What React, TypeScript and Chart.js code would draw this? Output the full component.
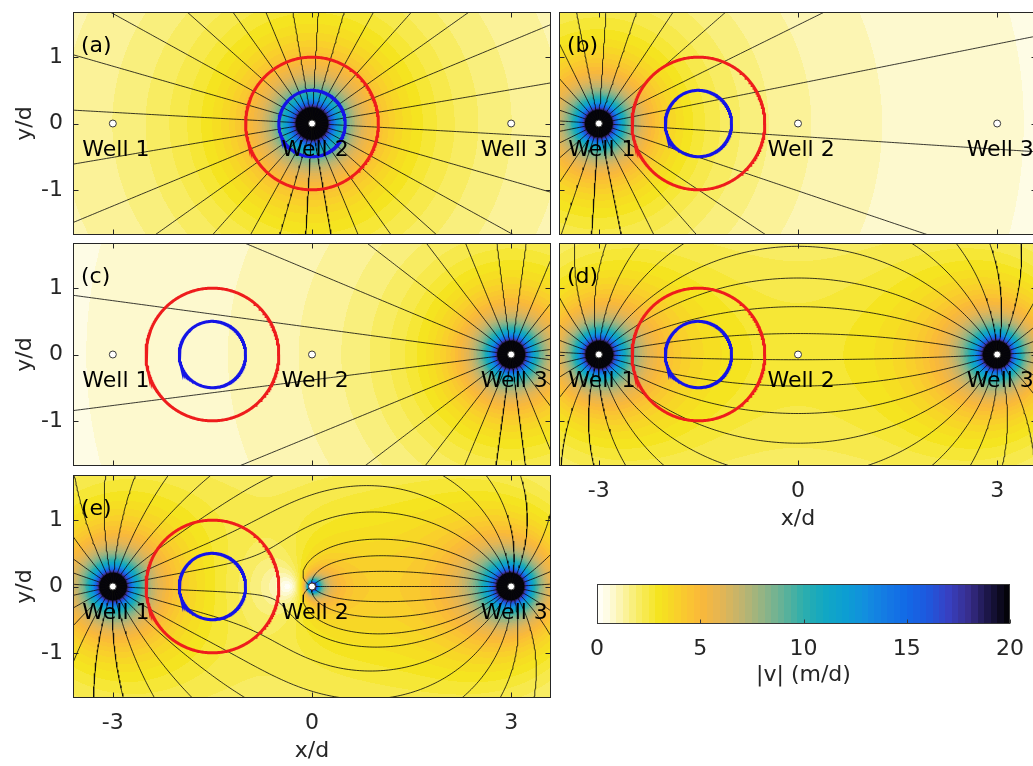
import React, { useEffect, useRef } from 'react';
import { Chart, registerables } from 'chart.js';

Chart.register(...registerables);

// ---------------- data ----------------
const wellNames = ['Well 1', 'Well 2', 'Well 3'];
const wellX = [-3, 0, 3];
const wellY = [0, 0, 0];

const panelLetters = ['(a)', '(b)', '(c)', '(d)', '(e)'];

// well strengths Q/(2*pi*b) in (m/d)*d ; + injection, - extraction
const strengthA = [0, 4.7, 0];
const strengthB = [4.0, 0, 0];
const strengthC = [0, 0, 4.0];
const strengthD = [4.0, 0, -4.0];
const strengthE = [4.0, 1.0, -4.0];

// number of streamlines leaving each well and angle (deg) of the first one
const lineCountA = [0, 28, 0];
const lineStartA = [0, -3.2, 0];
const lineCountB = [24, 0, 0];
const lineStartB = [-3.7, 0, 0];
const lineCountC = [0, 0, 24];
const lineStartC = [0, 0, 7.3];
const lineCountD = [24, 0, 24];
const lineStartD = [-3, 0, 183];
const lineCountE = [24, 7, 24];
const lineStartE = [-3, 0, 183];

// circles: centre (x/d, y/d) per panel, radii in d
const circleCenterX = [0, -1.5, -1.5, -1.5, -1.5];
const circleCenterY = [0, 0, 0, 0, 0];
const redRadius = 1;
const blueRadius = 0.5;

const xTicks = [-3, 0, 3];
const yTicks = [-1, 0, 1];
const xLimits = [-3.6, 3.6];
const yLimits = [-1.68, 1.68];
const cbTicks = [0, 5, 10, 15, 20];
const cbLimits = [0, 20];

// colormap stops: |v| (m/d) -> rgb
const cmapValues = [0, 0.6, 1.2, 2, 3, 4, 5, 6, 7, 8, 9, 10, 11, 12, 13, 14, 15, 16, 17, 18, 19, 20];
const cmapColors = [
  [255, 255, 255], [254, 251, 222], [252, 244, 170], [248, 236, 100], [245, 228, 30],
  [249, 206, 44], [250, 185, 57], [228, 181, 84], [192, 180, 110], [148, 180, 132],
  [98, 178, 152], [45, 174, 172], [18, 168, 195], [12, 158, 210], [18, 142, 222],
  [20, 122, 228], [18, 105, 230], [30, 88, 222], [55, 65, 195], [55, 45, 140],
  [25, 20, 65], [0, 0, 0],
];
const CMAP_LEVELS = 64;

const panelStrengths = [strengthA, strengthB, strengthC, strengthD, strengthE];
const panelLineCounts = [lineCountA, lineCountB, lineCountC, lineCountD, lineCountE];
const panelLineStarts = [lineStartA, lineStartB, lineStartC, lineStartD, lineStartE];

// ---------------- layout (pixels) ----------------
const FONT = 'DejaVu Sans';
const INK = '#262626';
const PW = 478;
const PH = 223;
const AX_L = 73;
const PAD_T = 10;
const PAD_R = 10;
const panelLayout = [
  { left: 73, top: 12, xLabels: false, yLabels: true },
  { left: 559, top: 12, xLabels: false, yLabels: false },
  { left: 73, top: 243, xLabels: false, yLabels: true },
  { left: 559, top: 243, xLabels: true, yLabels: false },
  { left: 73, top: 475, xLabels: true, yLabels: true },
];

// ---------------- helpers ----------------
function interpColor(v: number): number[] {
  if (v <= cmapValues[0]) return cmapColors[0];
  for (let i = 1; i < cmapValues.length; i++) {
    if (v <= cmapValues[i]) {
      const t = (v - cmapValues[i - 1]) / (cmapValues[i] - cmapValues[i - 1]);
      const a = cmapColors[i - 1], b = cmapColors[i];
      return [a[0] + t * (b[0] - a[0]), a[1] + t * (b[1] - a[1]), a[2] + t * (b[2] - a[2])];
    }
  }
  return cmapColors[cmapColors.length - 1];
}
const colorTable: number[][] = [];
for (let k = 0; k < CMAP_LEVELS; k++) {
  colorTable.push(interpColor(((k + 0.5) / CMAP_LEVELS) * cbLimits[1]).map((c) => Math.round(c)));
}
function colorFor(v: number): number[] {
  if (!isFinite(v)) return colorTable[CMAP_LEVELS - 1];
  let k = Math.floor((v / cbLimits[1]) * CMAP_LEVELS);
  if (k < 0) k = 0;
  if (k > CMAP_LEVELS - 1) k = CMAP_LEVELS - 1;
  return colorTable[k];
}

function velocity(s: number[], x: number, y: number): [number, number] {
  let vx = 0, vy = 0;
  for (let i = 0; i < s.length; i++) {
    if (!s[i]) continue;
    const dx = x - wellX[i], dy = y - wellY[i];
    const r2 = dx * dx + dy * dy;
    vx += (s[i] * dx) / r2;
    vy += (s[i] * dy) / r2;
  }
  return [vx, vy];
}

type Pt = { x: number; y: number };

function trace(s: number[], start: number, angleDeg: number, dir: number) {
  const a = (angleDeg * Math.PI) / 180;
  const pts: Pt[] = [{ x: wellX[start], y: wellY[start] }];
  let x = wellX[start] + 0.004 * Math.cos(a);
  let y = wellY[start] + 0.004 * Math.sin(a);
  pts.push({ x, y });
  const dirAt = (px: number, py: number): [number, number] => {
    const [vx, vy] = velocity(s, px, py);
    const m = Math.hypot(vx, vy);
    if (!(m > 1e-12)) return [0, 0];
    return [(dir * vx) / m, (dir * vy) / m];
  };
  for (let n = 0; n < 60000; n++) {
    let dmin = Infinity;
    for (let i = 0; i < 3; i++) if (s[i]) dmin = Math.min(dmin, Math.hypot(x - wellX[i], y - wellY[i]));
    const h = Math.min(0.04, Math.max(0.0008, 0.2 * dmin));
    const k1 = dirAt(x, y);
    const k2 = dirAt(x + 0.5 * h * k1[0], y + 0.5 * h * k1[1]);
    const k3 = dirAt(x + 0.5 * h * k2[0], y + 0.5 * h * k2[1]);
    const k4 = dirAt(x + h * k3[0], y + h * k3[1]);
    const dx = (h * (k1[0] + 2 * k2[0] + 2 * k3[0] + k4[0])) / 6;
    const dy = (h * (k1[1] + 2 * k2[1] + 2 * k3[1] + k4[1])) / 6;
    if (Math.hypot(dx, dy) < 1e-7) break;
    x += dx;
    y += dy;
    pts.push({ x, y });
    for (let i = 0; i < 3; i++) {
      if (i !== start && s[i] && Math.hypot(x - wellX[i], y - wellY[i]) < 0.012) {
        pts.push({ x: wellX[i], y: wellY[i] });
        return { pts, end: i };
      }
    }
    if (Math.abs(x) > 40 || Math.abs(y) > 40) return { pts, end: -1 };
  }
  return { pts, end: -2 };
}

function buildStreamlines(p: number): Pt[][] {
  const s = panelStrengths[p];
  const counts = panelLineCounts[p];
  const starts = panelLineStarts[p];
  const lines: Pt[][] = [];
  for (let i = 0; i < 3; i++) {
    if (!counts[i] || !s[i]) continue;
    const dir = s[i] > 0 ? 1 : -1;
    for (let k = 0; k < counts[i]; k++) {
      const res = trace(s, i, starts[i] + (k * 360) / counts[i], dir);
      if (dir < 0 && res.end >= 0) continue;
      lines.push(res.pts);
    }
  }
  return lines;
}

function circlePoints(cx: number, cy: number, r: number): Pt[] {
  const pts: Pt[] = [];
  for (let d = 0; d <= 360; d += 1) {
    const a = (d * Math.PI) / 180;
    pts.push({ x: cx + r * Math.cos(a), y: cy + r * Math.sin(a) });
  }
  return pts;
}

function zeroPad(sc: any) {
  sc.paddingTop = 0;
  sc.paddingBottom = 0;
  sc.paddingLeft = 0;
  sc.paddingRight = 0;
}

function makePanelConfig(p: number): any {
  const lay = panelLayout[p];
  const s = panelStrengths[p];
  const B = lay.xLabels ? 66 : 10;
  const lines = buildStreamlines(p);
  const datasets: any[] = [];
  datasets.push({
    data: wellX.map((x, i) => ({ x, y: wellY[i] })),
    showLine: false,
    pointRadius: 3.5,
    pointBackgroundColor: '#ffffff',
    pointBorderColor: '#3a3a3a',
    pointBorderWidth: 1,
    order: 0,
    clip: 0,
  });
  datasets.push({
    data: circlePoints(circleCenterX[p], circleCenterY[p], blueRadius),
    showLine: true, pointRadius: 0, borderColor: '#1414e6', borderWidth: 3, order: 1, clip: 0,
  });
  datasets.push({
    data: circlePoints(circleCenterX[p], circleCenterY[p], redRadius),
    showLine: true, pointRadius: 0, borderColor: '#ee1c1c', borderWidth: 3, order: 1, clip: 0,
  });
  for (const l of lines) {
    datasets.push({
      data: l, showLine: true, pointRadius: 0, borderColor: 'rgba(10,10,10,0.9)', borderWidth: 0.9,
      order: 2, clip: 0, tension: 0,
    });
  }

  const heat = {
    id: 'heat' + p,
    beforeDatasetsDraw(chart: any) {
      const { ctx, chartArea: ca, scales } = chart;
      const x0 = Math.round(ca.left), y0 = Math.round(ca.top);
      const w = Math.round(ca.right) - x0, h = Math.round(ca.bottom) - y0;
      const img = ctx.createImageData(w, h);
      const xs: number[] = [];
      for (let i = 0; i < w; i++) xs.push(scales.x.getValueForPixel(x0 + i + 0.5));
      for (let j = 0; j < h; j++) {
        const yv = scales.y.getValueForPixel(y0 + j + 0.5);
        for (let i = 0; i < w; i++) {
          const [vx, vy] = velocity(s, xs[i], yv);
          const c = colorFor(Math.hypot(vx, vy));
          const q = (j * w + i) * 4;
          img.data[q] = c[0]; img.data[q + 1] = c[1]; img.data[q + 2] = c[2]; img.data[q + 3] = 255;
        }
      }
      ctx.putImageData(img, x0, y0);
    },
  };
  const labels = {
    id: 'labels' + p,
    afterDatasetsDraw(chart: any) {
      const { ctx, chartArea: ca, scales } = chart;
      ctx.save();
      ctx.fillStyle = '#000000';
      ctx.font = `22px "${FONT}"`;
      ctx.textAlign = 'left';
      ctx.textBaseline = 'alphabetic';
      for (let i = 0; i < 3; i++) {
        ctx.fillText(wellNames[i], scales.x.getPixelForValue(wellX[i] - 0.46), scales.y.getPixelForValue(wellY[i] - 0.49));
      }
      ctx.fillText(panelLetters[p], ca.left + 8, ca.top + 40);
      ctx.restore();
    },
    afterDraw(chart: any) {
      const { ctx, chartArea: ca, scales } = chart;
      ctx.save();
      ctx.strokeStyle = INK;
      ctx.lineWidth = 1;
      const l = Math.round(ca.left) + 0.5, t = Math.round(ca.top) + 0.5;
      const r = Math.round(ca.right) - 0.5, b = Math.round(ca.bottom) - 0.5;
      ctx.strokeRect(l, t, r - l, b - t);
      ctx.beginPath();
      for (const v of xTicks) {
        const px = Math.round(scales.x.getPixelForValue(v)) + 0.5;
        ctx.moveTo(px, b); ctx.lineTo(px, b - 5);
        ctx.moveTo(px, t); ctx.lineTo(px, t + 5);
      }
      for (const v of yTicks) {
        const py = Math.round(scales.y.getPixelForValue(v)) + 0.5;
        ctx.moveTo(l, py); ctx.lineTo(l + 5, py);
        ctx.moveTo(r, py); ctx.lineTo(r - 5, py);
      }
      ctx.stroke();
      ctx.restore();
    },
  };

  return {
    type: 'scatter',
    data: { datasets },
    plugins: [heat, labels],
    options: {
      animation: false,
      responsive: false,
      maintainAspectRatio: false,
      events: [],
      layout: { padding: { left: 0, top: PAD_T, right: PAD_R, bottom: 0 } },
      plugins: { legend: { display: false }, tooltip: { enabled: false } },
      scales: {
        x: {
          type: 'linear', min: xLimits[0], max: xLimits[1],
          grid: { display: false, drawTicks: false }, border: { display: false },
          afterBuildTicks: (sc: any) => { sc.ticks = xTicks.map((v) => ({ value: v })); },
          ticks: {
            display: lay.xLabels, autoSkip: false, maxRotation: 0, minRotation: 0, padding: 12,
            font: { family: FONT, size: 22 }, color: INK, callback: (v: any) => String(v),
          },
          title: { display: lay.xLabels, text: 'x/d', font: { family: FONT, size: 22 }, color: INK, padding: { top: 0, bottom: 0 } },
          afterFit: (sc: any) => { sc.height = B; zeroPad(sc); },
        },
        y: {
          type: 'linear', min: yLimits[0], max: yLimits[1],
          grid: { display: false, drawTicks: false }, border: { display: false },
          afterBuildTicks: (sc: any) => { sc.ticks = yTicks.map((v) => ({ value: v })); },
          ticks: {
            display: lay.yLabels, autoSkip: false, padding: 10,
            font: { family: FONT, size: 22 }, color: INK, callback: (v: any) => String(v),
          },
          title: { display: lay.yLabels, text: 'y/d', font: { family: FONT, size: 22 }, color: INK, padding: { top: 12, bottom: 0 } },
          afterFit: (sc: any) => { sc.width = AX_L; zeroPad(sc); },
        },
      },
    },
  };
}

function makeColorbarConfig(): any {
  const fill = {
    id: 'cbfill',
    beforeDatasetsDraw(chart: any) {
      const { ctx, chartArea: ca, scales } = chart;
      const x0 = Math.round(ca.left), y0 = Math.round(ca.top);
      const w = Math.round(ca.right) - x0, h = Math.round(ca.bottom) - y0;
      for (let i = 0; i < w; i++) {
        const c = colorFor(scales.x.getValueForPixel(x0 + i + 0.5));
        ctx.fillStyle = `rgb(${c[0]},${c[1]},${c[2]})`;
        ctx.fillRect(x0 + i, y0, 1, h);
      }
    },
    afterDraw(chart: any) {
      const { ctx, chartArea: ca, scales } = chart;
      ctx.save();
      ctx.strokeStyle = '#3a3a3a';
      ctx.lineWidth = 1;
      const l = Math.round(ca.left) + 0.5, t = Math.round(ca.top) + 0.5;
      const r = Math.round(ca.right) - 0.5, b = Math.round(ca.bottom) - 0.5;
      ctx.strokeRect(l, t, r - l, b - t);
      ctx.beginPath();
      for (const v of cbTicks) {
        const px = Math.round(scales.x.getPixelForValue(v)) + 0.5;
        ctx.moveTo(px, b); ctx.lineTo(px, b - 4);
      }
      ctx.stroke();
      ctx.restore();
    },
  };
  return {
    type: 'scatter',
    data: { datasets: [] },
    plugins: [fill],
    options: {
      animation: false, responsive: false, maintainAspectRatio: false, events: [],
      layout: { padding: { left: 37, top: 14, right: 23, bottom: 0 } },
      plugins: { legend: { display: false }, tooltip: { enabled: false } },
      scales: {
        x: {
          type: 'linear', min: cbLimits[0], max: cbLimits[1],
          grid: { display: false, drawTicks: false }, border: { display: false },
          afterBuildTicks: (sc: any) => { sc.ticks = cbTicks.map((v) => ({ value: v })); },
          ticks: { autoSkip: false, maxRotation: 0, padding: 12, font: { family: FONT, size: 22 }, color: INK, callback: (v: any) => String(v) },
          title: { display: true, text: '|v| (m/d)', font: { family: FONT, size: 22 }, color: INK, padding: { top: 0, bottom: 0 } },
          afterFit: (sc: any) => { sc.height = 64; zeroPad(sc); },
        },
        y: { display: false, min: 0, max: 1 },
      },
    },
  };
}

function ChartCanvas(props: { make: () => any; left: number; top: number; width: number; height: number }) {
  const ref = useRef<HTMLCanvasElement>(null);
  useEffect(() => {
    const chart = new Chart(ref.current as HTMLCanvasElement, props.make());
    return () => chart.destroy();
  }, []);
  return (
    <canvas
      ref={ref}
      width={props.width}
      height={props.height}
      style={{ position: 'absolute', left: props.left, top: props.top, width: props.width, height: props.height }}
    />
  );
}

export default function App() {
  return (
    <div style={{ position: 'absolute', left: 0, top: 0, width: 1033, height: 766, overflow: 'hidden', background: '#ffffff' }}>
      {panelLayout.map((lay, p) => {
        const B = lay.xLabels ? 66 : 10;
        return (
          <ChartCanvas
            key={p}
            make={() => makePanelConfig(p)}
            left={lay.left - AX_L}
            top={lay.top - PAD_T}
            width={AX_L + PW + PAD_R}
            height={PAD_T + PH + B}
          />
        );
      })}
      <ChartCanvas make={makeColorbarConfig} left={560} top={570} width={473} height={118} />
    </div>
  );
}
